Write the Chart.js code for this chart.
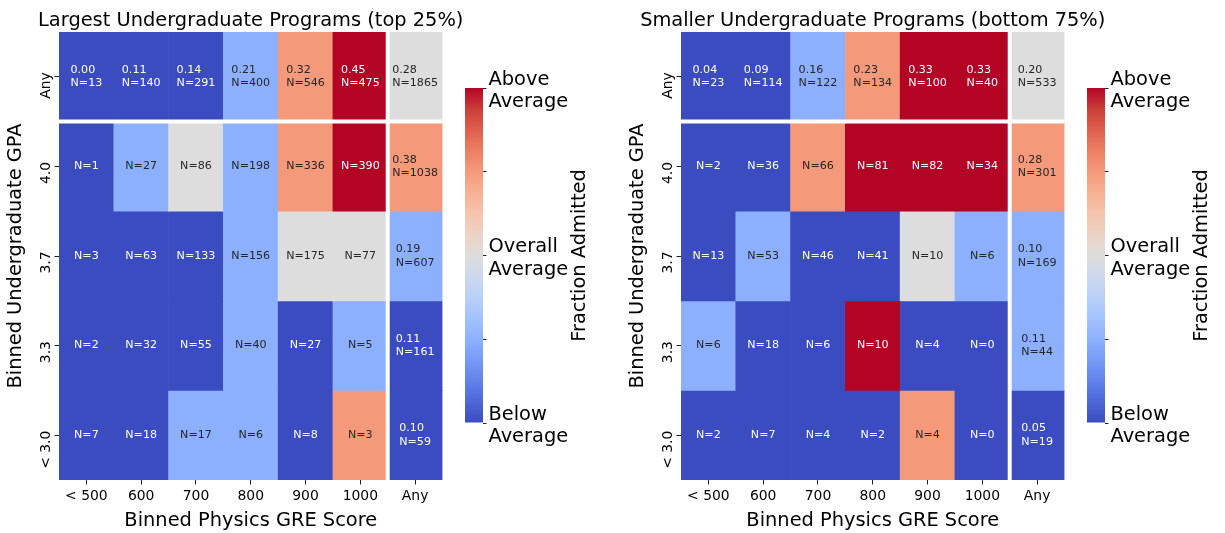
<!DOCTYPE html>
<html>
<head>
<meta charset="utf-8">
<script src="https://cdn.jsdelivr.net/npm/chart.js@4.4.1/dist/chart.umd.min.js"></script>
<style>
  html, body { margin: 0; padding: 0; background: #ffffff; }
  body { width: 1225px; height: 533px; position: relative; overflow: hidden; }
  canvas { position: absolute; top: 0; }
</style>
</head>
<body>
<canvas id="heatLarge" width="501" height="533" style="left:0px"></canvas>
<canvas id="cbarLarge" width="150" height="533" style="left:445px"></canvas>
<canvas id="heatSmall" width="501" height="533" style="left:622px"></canvas>
<canvas id="cbarSmall" width="150" height="533" style="left:1067px"></canvas>
<script>
// ---------------- data ----------------
const gpaRows = ['Any', '4.0', '3.7', '3.3', '< 3.0'];
const greCols = ['< 500', '600', '700', '800', '900', '1000', 'Any'];
const colorbarTicks = [['Below', 'Average'], '', ['Overall', 'Average'], '', ['Above', 'Average']];

const titleLarge = 'Largest Undergraduate Programs (top 25%)';
const titleSmall = 'Smaller Undergraduate Programs (bottom 75%)';
const xAxisTitle = 'Binned Physics GRE Score';
const yAxisTitle = 'Binned Undergraduate GPA';
const cbarTitle = 'Fraction Admitted';

// counts, rows: Any, 4.0, 3.7, 3.3, <3.0 ; cols: <500 .. 1000, Any
const largeN = [
  [13, 140, 291, 400, 546, 475, 1865],
  [1, 27, 86, 198, 336, 390, 1038],
  [3, 63, 133, 156, 175, 77, 607],
  [2, 32, 55, 40, 27, 5, 161],
  [7, 18, 17, 6, 8, 3, 59]
];
const largeAnyRowFrac = [0.00, 0.11, 0.14, 0.21, 0.32, 0.45, 0.28];
const largeAnyColFrac = [0.38, 0.19, 0.11, 0.10];   // rows 4.0 .. <3.0
// colour class: 0 well below, 1 below, 2 overall average, 3 above, 4 well above
const largeLevel = [
  [0, 0, 0, 1, 3, 4, 2],
  [0, 1, 2, 1, 3, 4, 3],
  [0, 0, 0, 1, 2, 2, 1],
  [0, 0, 0, 1, 0, 1, 0],
  [0, 0, 1, 1, 0, 3, 0]
];

const smallN = [
  [23, 114, 122, 134, 100, 40, 533],
  [2, 36, 66, 81, 82, 34, 301],
  [13, 53, 46, 41, 10, 6, 169],
  [6, 18, 6, 10, 4, 0, 44],
  [2, 7, 4, 2, 4, 0, 19]
];
const smallAnyRowFrac = [0.04, 0.09, 0.16, 0.23, 0.33, 0.33, 0.20];
const smallAnyColFrac = [0.28, 0.10, 0.11, 0.05];
const smallLevel = [
  [0, 0, 1, 3, 4, 4, 2],
  [0, 0, 3, 4, 4, 4, 3],
  [0, 1, 0, 0, 2, 1, 1],
  [1, 0, 0, 4, 0, 0, 1],
  [0, 0, 0, 0, 3, 0, 0]
];

// ---------------- styles ----------------
const FONT = 'DejaVu Sans';
const LEVEL_COLORS = ['#3b4cc0', '#8db0fe', '#dddddd', '#f49a7b', '#b40426'];
const LEVEL_TEXT = ['#ffffff', '#262626', '#262626', '#262626', '#ffffff'];
const COOLWARM = ['#3b4cc0', '#4d68d7', '#6282ea', '#779af7', '#8db0fe', '#a3c2ff', '#b8d0f9', '#ccd9ee',
  '#dddddd', '#ecd3c5', '#f5c4ad', '#f7b194', '#f49a7b', '#ec7f63', '#de604d', '#cb3e38', '#b40426'];

Chart.defaults.font.family = FONT;
Chart.defaults.color = '#000000';

function buildDatasets(N, level, anyRowFrac, anyColFrac) {
  const last = greCols.length - 1;
  return gpaRows.map((row, r) => {
    const top = gpaRows.length - r;
    return {
      label: row,
      data: greCols.map(() => [top - 1, top]),
      backgroundColor: level[r].map(l => LEVEL_COLORS[l]),
      borderWidth: 0,
      barPercentage: 1,
      categoryPercentage: 1,
      grouped: false,
      cellText: greCols.map((c, k) => {
        const n = 'N=' + N[r][k];
        if (r === 0) return [anyRowFrac[k].toFixed(2), n];
        if (k === last) return [anyColFrac[r - 1].toFixed(2), n];
        return [n];
      }),
      textColor: level[r].map(l => LEVEL_TEXT[l])
    };
  });
}

const heatOverlay = {
  id: 'heatOverlay',
  afterDatasetsDraw(chart) {
    const { ctx, chartArea, scales } = chart;
    const xs = (scales.x.getPixelForValue(greCols.length - 2) + scales.x.getPixelForValue(greCols.length - 1)) / 2;
    const ys = scales.y.getPixelForValue(gpaRows.length - 1);
    ctx.save();
    ctx.strokeStyle = '#ffffff';
    ctx.lineWidth = 4;
    ctx.beginPath();
    ctx.moveTo(xs, chartArea.top); ctx.lineTo(xs, chartArea.bottom);
    ctx.moveTo(chartArea.left, ys); ctx.lineTo(chartArea.right, ys);
    ctx.stroke();
    ctx.font = '11.1px "' + FONT + '"';
    ctx.textBaseline = 'middle';
    ctx.textAlign = 'left';
    const lh = 13.3;
    chart.data.datasets.forEach((ds, r) => {
      chart.getDatasetMeta(r).data.forEach((el, k) => {
        const p = el.getCenterPoint();
        const lines = ds.cellText[k];
        const w = Math.max(...lines.map(t => ctx.measureText(t).width));
        ctx.fillStyle = ds.textColor[k];
        lines.forEach((t, i) => ctx.fillText(t, p.x - w / 2, p.y + (i - (lines.length - 1) / 2) * lh));
      });
    });
    ctx.restore();
  },
  afterDraw(chart) {
    const { ctx, chartArea } = chart;
    const text = chart.options.plugins.heatOverlay.title;
    ctx.save();
    ctx.font = '19.4px "' + FONT + '"';
    ctx.fillStyle = '#000000';
    ctx.textAlign = 'center';
    ctx.textBaseline = 'middle';
    ctx.fillText(text, (chartArea.left + chartArea.right) / 2, chartArea.top - 11);
    ctx.restore();
  }
};

function makeHeatmap(id, title, N, level, anyRowFrac, anyColFrac) {
  return new Chart(document.getElementById(id), {
    type: 'bar',
    data: { labels: greCols, datasets: buildDatasets(N, level, anyRowFrac, anyColFrac) },
    plugins: [heatOverlay],
    options: {
      responsive: false,
      animation: false,
      events: [],
      layout: { padding: { left: 0, right: 58.5, top: 32, bottom: 0 } },
      plugins: {
        legend: { display: false },
        tooltip: { enabled: false },
        title: { display: false },
        heatOverlay: { title: title }
      },
      scales: {
        x: {
          type: 'category',
          offset: true,
          grid: { display: true, offset: false, drawOnChartArea: false, drawTicks: true, tickLength: 4.5, color: '#222222', lineWidth: 1 },
          border: { display: false },
          ticks: { font: { family: FONT, size: 13.9 }, color: '#000000', padding: 4, minRotation: 0, maxRotation: 0 },
          title: { display: true, text: xAxisTitle, color: '#000000', font: { family: FONT, size: 19.4 }, padding: { top: 0, bottom: 0 } },
          afterFit(s) { s.height = 53; }
        },
        y: {
          type: 'linear',
          min: 0,
          max: gpaRows.length,
          afterBuildTicks(s) { s.ticks = gpaRows.map((_, r) => ({ value: gpaRows.length - r - 0.5 })); },
          grid: { display: true, drawOnChartArea: false, drawTicks: true, tickLength: 4.5, color: '#222222', lineWidth: 1 },
          border: { display: false },
          ticks: {
            font: { family: FONT, size: 13.9 }, color: '#000000',
            minRotation: 90, maxRotation: 90, padding: 8.5, labelOffset: -4.5,
            callback: (v) => gpaRows[Math.round(gpaRows.length - 0.5 - v)]
          },
          title: { display: true, text: yAxisTitle, color: '#000000', font: { family: FONT, size: 19.4 }, padding: { top: 4, bottom: 0 } },
          afterFit(s) { s.width = 59; }
        }
      }
    }
  });
}

const cbarTitlePlugin = {
  id: 'cbarTitle',
  afterDraw(chart) {
    const { ctx, chartArea } = chart;
    ctx.save();
    ctx.translate(chartArea.right + 97, (chartArea.top + chartArea.bottom) / 2);
    ctx.rotate(-Math.PI / 2);
    ctx.font = '19.4px "' + FONT + '"';
    ctx.fillStyle = '#000000';
    ctx.textAlign = 'center';
    ctx.textBaseline = 'middle';
    ctx.fillText(cbarTitle, 0, 0);
    ctx.restore();
  }
};

function makeColorbar(id) {
  return new Chart(document.getElementById(id), {
    type: 'bar',
    data: {
      labels: [''],
      datasets: [{
        data: [[0, colorbarTicks.length - 1]],
        backgroundColor(ctx) {
          const area = ctx.chart.chartArea;
          if (!area) return COOLWARM[0];
          const g = ctx.chart.ctx.createLinearGradient(0, area.bottom, 0, area.top);
          COOLWARM.forEach((c, i) => g.addColorStop(i / (COOLWARM.length - 1), c));
          return g;
        },
        borderWidth: 0,
        barPercentage: 1,
        categoryPercentage: 1,
        inflateAmount: 0
      }]
    },
    plugins: [cbarTitlePlugin],
    options: {
      responsive: false,
      animation: false,
      events: [],
      layout: { padding: { left: 20, right: 0, top: 88, bottom: 110 } },
      plugins: { legend: { display: false }, tooltip: { enabled: false } },
      scales: {
        x: { display: false },
        y: {
          position: 'right',
          min: 0,
          max: colorbarTicks.length - 1,
          ticks: {
            stepSize: 1,
            callback: (v) => colorbarTicks[Math.round(v)],
            font: { family: FONT, size: 19.4, lineHeight: 1.15 },
            color: '#000000',
            padding: 2,
            labelOffset: 3
          },
          grid: { display: true, drawOnChartArea: false, drawTicks: true, tickLength: 3.5, color: '#222222', lineWidth: 1 },
          border: { display: false },
          afterFit(s) { s.width = 112; }
        }
      }
    }
  });
}

makeHeatmap('heatLarge', titleLarge, largeN, largeLevel, largeAnyRowFrac, largeAnyColFrac);
makeColorbar('cbarLarge');
makeHeatmap('heatSmall', titleSmall, smallN, smallLevel, smallAnyRowFrac, smallAnyColFrac);
makeColorbar('cbarSmall');
</script>
</body>
</html>
